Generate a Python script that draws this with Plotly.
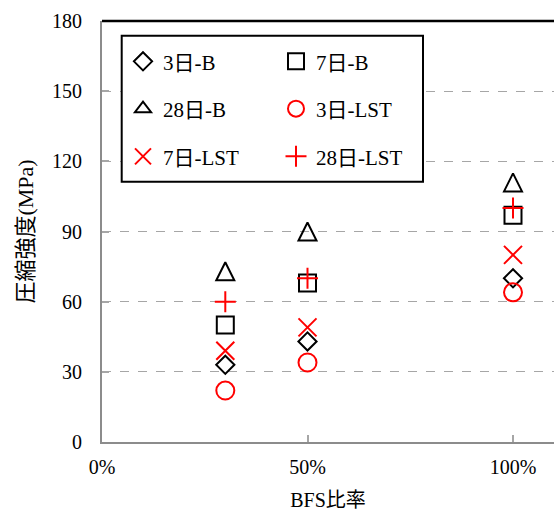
import plotly.graph_objects as go

# ---- data -------------------------------------------------------------
bfs_ratio = [0.3, 0.5, 1.0]

strength_3d_b = [33, 43, 70]
strength_7d_b = [50, 68, 97]
strength_28d_b = [73, 90, 111]
strength_3d_lst = [22, 34, 64]
strength_7d_lst = [39, 49, 80]
strength_28d_lst = [60, 70, 100]

series_names = ["3日-B", "7日-B", "28日-B", "3日-LST", "7日-LST", "28日-LST"]

x_tick_vals = [0, 0.5, 1.0]
x_tick_text = ["0%", "50%", "100%"]
y_tick_vals = [0, 30, 60, 90, 120, 150, 180]

# ---- layout geometry ----------------------------------------------------
W, H = 554, 513
M_L, M_R, M_T, M_B = 102, 0, 21, 71
PW, PH = W - M_L - M_R, H - M_T - M_B


def px_x(px):
    return (px - M_L) / PW


def px_y(py):
    return (H - M_B - py) / PH


FONT = "Liberation Serif, 'Noto Sans CJK JP', serif"
BLACK = "#000000"
RED = "#ff0000"
AXIS_GRAY = "#8c8c8c"

# the open triangle in the plot is an arrow marker turned upright and centred
# on its point; its legend entry uses a plain triangle symbol instead
styles = [
    dict(symbol="diamond-open", size=14, color=BLACK),
    dict(symbol="square-open", size=17, color=BLACK),
    dict(symbol="arrow-down-open", size=18, color=BLACK, standoff=9, angle=180,
         legend_symbol="triangle-up-open", legend_size=14),
    dict(symbol="circle-open", size=18, color=RED),
    dict(symbol="x-thin-open", size=18, color=RED),
    dict(symbol="cross-thin-open", size=15, color=RED),
]
values = [strength_3d_b, strength_7d_b, strength_28d_b,
          strength_3d_lst, strength_7d_lst, strength_28d_lst]
legend_ids = ["legend", "legend", "legend2", "legend2", "legend3", "legend3"]

fig = go.Figure()
for name, vals, st, lg in zip(series_names, values, styles, legend_ids):
    marker = dict(symbol=st["symbol"], size=st["size"], color=st["color"],
                  line=dict(color=st["color"], width=2))
    own_legend = "legend_symbol" not in st
    if "standoff" in st:
        marker["standoff"] = st["standoff"]
        marker["angle"] = st["angle"]
    fig.add_trace(go.Scatter(
        x=bfs_ratio, y=vals, name=name, mode="markers",
        marker=marker, legend=lg, legendgroup=name,
        showlegend=own_legend, cliponaxis=False,
    ))
    if not own_legend:
        fig.add_trace(go.Scatter(
            x=[None], y=[None], name=name, mode="markers",
            marker=dict(symbol=st["legend_symbol"], size=st["legend_size"],
                        color=st["color"],
                        line=dict(color=st["color"], width=2)),
            legend=lg, legendgroup=name, showlegend=True, hoverinfo="skip",
        ))

# legend rows (two entries per row)
row_centers = [61.7, 109, 156.7]
legend_left = 123
legend_common = dict(
    orientation="h", xanchor="left", yanchor="middle",
    x=px_x(legend_left), bgcolor="rgba(0,0,0,0)", borderwidth=0,
    entrywidth=108, entrywidthmode="pixels",
    font=dict(family=FONT, size=21, color=BLACK),
    itemclick=False, itemdoubleclick=False,
)

fig.update_layout(
    width=W, height=H,
    margin=dict(l=M_L, r=M_R, t=M_T, b=M_B, pad=0),
    paper_bgcolor="white", plot_bgcolor="white",
    font=dict(family=FONT, size=20, color="#000000"),
    showlegend=True,
    legend=dict(legend_common, y=px_y(row_centers[0])),
    legend2=dict(legend_common, y=px_y(row_centers[1])),
    legend3=dict(legend_common, y=px_y(row_centers[2])),
    xaxis=dict(
        range=[0, PW / 411.0],
        tickvals=x_tick_vals, ticktext=x_tick_text,
        showgrid=False, zeroline=False,
        showline=True, linecolor=AXIS_GRAY, linewidth=2,
        ticks="inside", ticklen=7, tickwidth=2, tickcolor="#a6a6a6",
        tickfont=dict(family=FONT, size=20, color=BLACK),
        ticklabelstandoff=6,
        title=dict(text="BFS比率", font=dict(family=FONT, size=20, color=BLACK),
                   standoff=16),
        fixedrange=True,
    ),
    yaxis=dict(
        range=[0, 180], tickvals=y_tick_vals,
        showgrid=True, gridcolor="#a6a6a6", griddash="dash", gridwidth=1,
        zeroline=False,
        showline=True, linecolor=AXIS_GRAY, linewidth=2,
        ticks="inside", ticklen=7, tickwidth=2, tickcolor="#a6a6a6",
        tickfont=dict(family=FONT, size=20, color=BLACK),
        ticklabelstandoff=14,
        title=dict(text="圧縮強度(MPa)", font=dict(family=FONT, size=22, color=BLACK),
                   standoff=12),
        fixedrange=True,
    ),
    shapes=[
        # top frame line of the plot area
        dict(type="line", xref="paper", yref="paper", x0=0, x1=1, y0=1, y1=1,
             line=dict(color=BLACK, width=2.5), layer="above"),
        # legend frame
        dict(type="rect", xref="paper", yref="paper",
             x0=px_x(121.7), x1=px_x(423), y0=px_y(181.7), y1=px_y(35.7),
             line=dict(color=BLACK, width=2), fillcolor="white", layer="above"),
    ],
)

fig.write_html("out.html")
